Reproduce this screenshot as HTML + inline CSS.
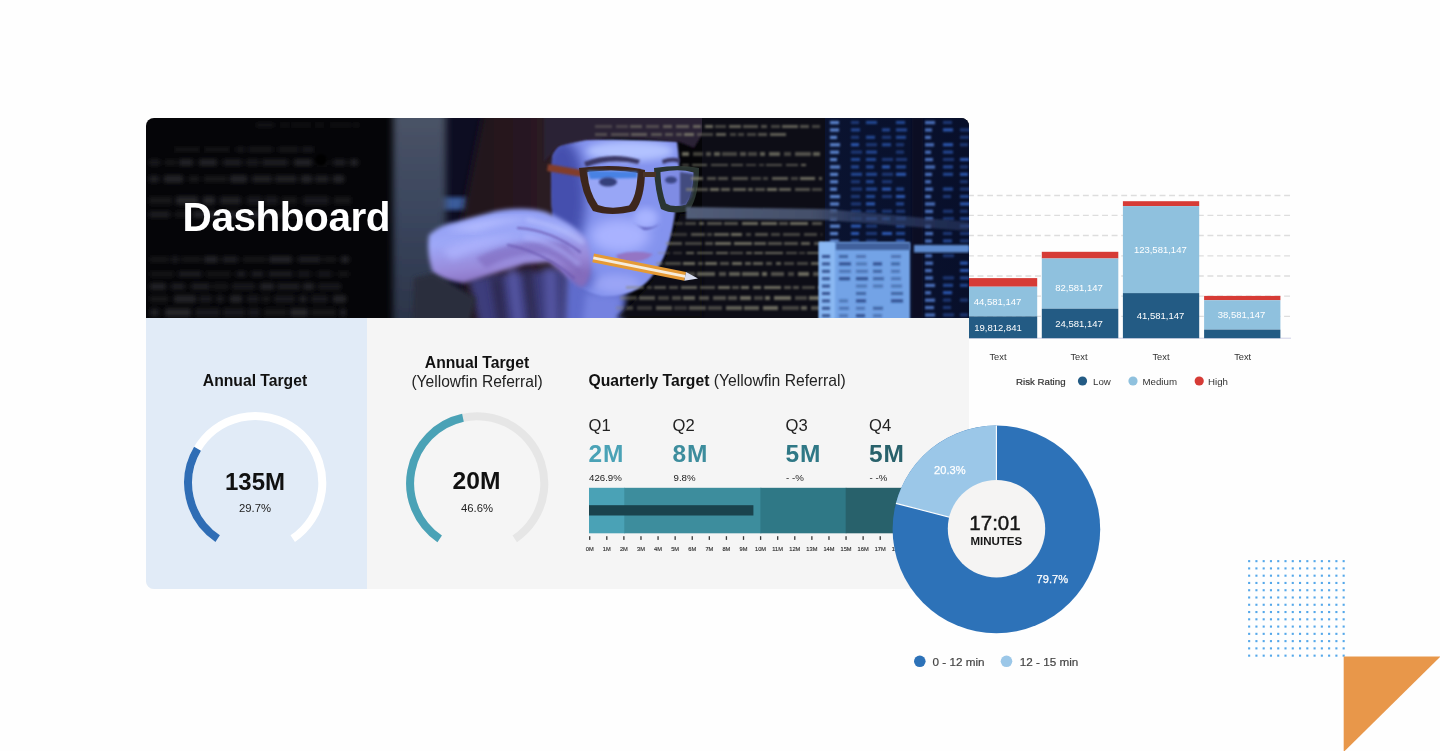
<!DOCTYPE html>
<html lang="en"><head><meta charset="utf-8"><title>Dashboard</title>
<style>
html,body{margin:0;padding:0;}
body{width:1440px;height:751px;position:relative;overflow:hidden;background:#fefefe;font-family:"Liberation Sans",sans-serif;color:#111;}
.abs{position:absolute;white-space:nowrap;line-height:1;}
svg{position:absolute;left:0;top:0;}
svg text{font-family:"Liberation Sans",sans-serif;}
.card{position:absolute;left:146px;top:118px;width:823px;height:471px;border-radius:8px;overflow:hidden;background:#f5f5f5;}
.leftp{position:absolute;left:0;top:200px;width:221px;height:271px;background:#e1ebf7;}
.c{text-align:center;}
.b{font-weight:700;}
</style></head><body>
<svg width="1440" height="751" viewBox="0 0 1440 751"><line x1="1290" y1="195.5" x2="969" y2="195.5" stroke="#dddddd" stroke-width="1.3" stroke-dasharray="5.9 3.68"/><line x1="1290" y1="215.4" x2="969" y2="215.4" stroke="#dddddd" stroke-width="1.3" stroke-dasharray="5.9 3.68"/><line x1="1290" y1="235.5" x2="969" y2="235.5" stroke="#dddddd" stroke-width="1.3" stroke-dasharray="5.9 3.68"/><line x1="1290" y1="255.8" x2="969" y2="255.8" stroke="#dddddd" stroke-width="1.3" stroke-dasharray="5.9 3.68"/><line x1="1290" y1="276.0" x2="969" y2="276.0" stroke="#dddddd" stroke-width="1.3" stroke-dasharray="5.9 3.68"/><line x1="1290" y1="296.2" x2="969" y2="296.2" stroke="#dddddd" stroke-width="1.3" stroke-dasharray="5.9 3.68"/><line x1="1290" y1="316.4" x2="969" y2="316.4" stroke="#dddddd" stroke-width="1.3" stroke-dasharray="5.9 3.68"/><line x1="969" y1="338.2" x2="1291" y2="338.2" stroke="#cfd0e6" stroke-width="1"/><rect x="960.8" y="278.1" width="76.4" height="8.6" fill="#d63b36"/><rect x="960.8" y="286.7" width="76.4" height="29.7" fill="#8fc1de"/><rect x="960.8" y="316.4" width="76.4" height="21.8" fill="#235b84"/><rect x="1041.8" y="251.8" width="76.5" height="6.7" fill="#d63b36"/><rect x="1041.8" y="258.5" width="76.5" height="50.2" fill="#8fc1de"/><rect x="1041.8" y="308.7" width="76.5" height="29.5" fill="#235b84"/><rect x="1122.9" y="201.2" width="76.3" height="4.9" fill="#d63b36"/><rect x="1122.9" y="206.1" width="76.3" height="87.0" fill="#8fc1de"/><rect x="1122.9" y="293.1" width="76.3" height="45.1" fill="#235b84"/><rect x="1204.1" y="295.9" width="76.3" height="4.3" fill="#d63b36"/><rect x="1204.1" y="300.2" width="76.3" height="29.4" fill="#8fc1de"/><rect x="1204.1" y="329.6" width="76.3" height="8.6" fill="#235b84"/><text x="997.5" y="304.8" font-size="9.5" text-anchor="middle" fill="#fff">44,581,147</text><text x="998" y="331" font-size="9.5" text-anchor="middle" fill="#fff">19,812,841</text><text x="1079" y="290.6" font-size="9.5" text-anchor="middle" fill="#fff">82,581,147</text><text x="1079" y="327.1" font-size="9.5" text-anchor="middle" fill="#fff">24,581,147</text><text x="1160.3" y="252.5" font-size="9.5" text-anchor="middle" fill="#fff">123,581,147</text><text x="1160.5" y="319.1" font-size="9.5" text-anchor="middle" fill="#fff">41,581,147</text><text x="1241.5" y="318.2" font-size="9.5" text-anchor="middle" fill="#fff">38,581,147</text><text x="998" y="360.1" font-size="9.3" text-anchor="middle" fill="#333">Text</text><text x="1079" y="360.1" font-size="9.3" text-anchor="middle" fill="#333">Text</text><text x="1161" y="360.1" font-size="9.3" text-anchor="middle" fill="#333">Text</text><text x="1242.7" y="360.1" font-size="9.3" text-anchor="middle" fill="#333">Text</text><text x="1016" y="385.3" font-size="9.7" fill="#333" stroke="#333" stroke-width="0.2">Risk Rating</text><circle cx="1082.5" cy="381" r="4.6" fill="#235b84"/><text x="1093" y="385.2" font-size="9.7" fill="#333">Low</text><circle cx="1133" cy="381" r="4.6" fill="#8fc1de"/><text x="1142.5" y="385.2" font-size="9.7" fill="#333">Medium</text><circle cx="1199.2" cy="381" r="4.6" fill="#d63b36"/><text x="1208" y="385.2" font-size="9.7" fill="#333">High</text><rect x="1248.10" y="560.10" width="2.1" height="2.1" fill="#55a8ea"/><rect x="1255.37" y="560.10" width="2.1" height="2.1" fill="#55a8ea"/><rect x="1262.64" y="560.10" width="2.1" height="2.1" fill="#55a8ea"/><rect x="1269.91" y="560.10" width="2.1" height="2.1" fill="#55a8ea"/><rect x="1277.18" y="560.10" width="2.1" height="2.1" fill="#55a8ea"/><rect x="1284.45" y="560.10" width="2.1" height="2.1" fill="#55a8ea"/><rect x="1291.72" y="560.10" width="2.1" height="2.1" fill="#55a8ea"/><rect x="1298.99" y="560.10" width="2.1" height="2.1" fill="#55a8ea"/><rect x="1306.26" y="560.10" width="2.1" height="2.1" fill="#55a8ea"/><rect x="1313.53" y="560.10" width="2.1" height="2.1" fill="#55a8ea"/><rect x="1320.80" y="560.10" width="2.1" height="2.1" fill="#55a8ea"/><rect x="1328.07" y="560.10" width="2.1" height="2.1" fill="#55a8ea"/><rect x="1335.34" y="560.10" width="2.1" height="2.1" fill="#55a8ea"/><rect x="1342.61" y="560.10" width="2.1" height="2.1" fill="#55a8ea"/><rect x="1248.10" y="567.37" width="2.1" height="2.1" fill="#55a8ea"/><rect x="1255.37" y="567.37" width="2.1" height="2.1" fill="#55a8ea"/><rect x="1262.64" y="567.37" width="2.1" height="2.1" fill="#55a8ea"/><rect x="1269.91" y="567.37" width="2.1" height="2.1" fill="#55a8ea"/><rect x="1277.18" y="567.37" width="2.1" height="2.1" fill="#55a8ea"/><rect x="1284.45" y="567.37" width="2.1" height="2.1" fill="#55a8ea"/><rect x="1291.72" y="567.37" width="2.1" height="2.1" fill="#55a8ea"/><rect x="1298.99" y="567.37" width="2.1" height="2.1" fill="#55a8ea"/><rect x="1306.26" y="567.37" width="2.1" height="2.1" fill="#55a8ea"/><rect x="1313.53" y="567.37" width="2.1" height="2.1" fill="#55a8ea"/><rect x="1320.80" y="567.37" width="2.1" height="2.1" fill="#55a8ea"/><rect x="1328.07" y="567.37" width="2.1" height="2.1" fill="#55a8ea"/><rect x="1335.34" y="567.37" width="2.1" height="2.1" fill="#55a8ea"/><rect x="1342.61" y="567.37" width="2.1" height="2.1" fill="#55a8ea"/><rect x="1248.10" y="574.64" width="2.1" height="2.1" fill="#55a8ea"/><rect x="1255.37" y="574.64" width="2.1" height="2.1" fill="#55a8ea"/><rect x="1262.64" y="574.64" width="2.1" height="2.1" fill="#55a8ea"/><rect x="1269.91" y="574.64" width="2.1" height="2.1" fill="#55a8ea"/><rect x="1277.18" y="574.64" width="2.1" height="2.1" fill="#55a8ea"/><rect x="1284.45" y="574.64" width="2.1" height="2.1" fill="#55a8ea"/><rect x="1291.72" y="574.64" width="2.1" height="2.1" fill="#55a8ea"/><rect x="1298.99" y="574.64" width="2.1" height="2.1" fill="#55a8ea"/><rect x="1306.26" y="574.64" width="2.1" height="2.1" fill="#55a8ea"/><rect x="1313.53" y="574.64" width="2.1" height="2.1" fill="#55a8ea"/><rect x="1320.80" y="574.64" width="2.1" height="2.1" fill="#55a8ea"/><rect x="1328.07" y="574.64" width="2.1" height="2.1" fill="#55a8ea"/><rect x="1335.34" y="574.64" width="2.1" height="2.1" fill="#55a8ea"/><rect x="1342.61" y="574.64" width="2.1" height="2.1" fill="#55a8ea"/><rect x="1248.10" y="581.91" width="2.1" height="2.1" fill="#55a8ea"/><rect x="1255.37" y="581.91" width="2.1" height="2.1" fill="#55a8ea"/><rect x="1262.64" y="581.91" width="2.1" height="2.1" fill="#55a8ea"/><rect x="1269.91" y="581.91" width="2.1" height="2.1" fill="#55a8ea"/><rect x="1277.18" y="581.91" width="2.1" height="2.1" fill="#55a8ea"/><rect x="1284.45" y="581.91" width="2.1" height="2.1" fill="#55a8ea"/><rect x="1291.72" y="581.91" width="2.1" height="2.1" fill="#55a8ea"/><rect x="1298.99" y="581.91" width="2.1" height="2.1" fill="#55a8ea"/><rect x="1306.26" y="581.91" width="2.1" height="2.1" fill="#55a8ea"/><rect x="1313.53" y="581.91" width="2.1" height="2.1" fill="#55a8ea"/><rect x="1320.80" y="581.91" width="2.1" height="2.1" fill="#55a8ea"/><rect x="1328.07" y="581.91" width="2.1" height="2.1" fill="#55a8ea"/><rect x="1335.34" y="581.91" width="2.1" height="2.1" fill="#55a8ea"/><rect x="1342.61" y="581.91" width="2.1" height="2.1" fill="#55a8ea"/><rect x="1248.10" y="589.18" width="2.1" height="2.1" fill="#55a8ea"/><rect x="1255.37" y="589.18" width="2.1" height="2.1" fill="#55a8ea"/><rect x="1262.64" y="589.18" width="2.1" height="2.1" fill="#55a8ea"/><rect x="1269.91" y="589.18" width="2.1" height="2.1" fill="#55a8ea"/><rect x="1277.18" y="589.18" width="2.1" height="2.1" fill="#55a8ea"/><rect x="1284.45" y="589.18" width="2.1" height="2.1" fill="#55a8ea"/><rect x="1291.72" y="589.18" width="2.1" height="2.1" fill="#55a8ea"/><rect x="1298.99" y="589.18" width="2.1" height="2.1" fill="#55a8ea"/><rect x="1306.26" y="589.18" width="2.1" height="2.1" fill="#55a8ea"/><rect x="1313.53" y="589.18" width="2.1" height="2.1" fill="#55a8ea"/><rect x="1320.80" y="589.18" width="2.1" height="2.1" fill="#55a8ea"/><rect x="1328.07" y="589.18" width="2.1" height="2.1" fill="#55a8ea"/><rect x="1335.34" y="589.18" width="2.1" height="2.1" fill="#55a8ea"/><rect x="1342.61" y="589.18" width="2.1" height="2.1" fill="#55a8ea"/><rect x="1248.10" y="596.45" width="2.1" height="2.1" fill="#55a8ea"/><rect x="1255.37" y="596.45" width="2.1" height="2.1" fill="#55a8ea"/><rect x="1262.64" y="596.45" width="2.1" height="2.1" fill="#55a8ea"/><rect x="1269.91" y="596.45" width="2.1" height="2.1" fill="#55a8ea"/><rect x="1277.18" y="596.45" width="2.1" height="2.1" fill="#55a8ea"/><rect x="1284.45" y="596.45" width="2.1" height="2.1" fill="#55a8ea"/><rect x="1291.72" y="596.45" width="2.1" height="2.1" fill="#55a8ea"/><rect x="1298.99" y="596.45" width="2.1" height="2.1" fill="#55a8ea"/><rect x="1306.26" y="596.45" width="2.1" height="2.1" fill="#55a8ea"/><rect x="1313.53" y="596.45" width="2.1" height="2.1" fill="#55a8ea"/><rect x="1320.80" y="596.45" width="2.1" height="2.1" fill="#55a8ea"/><rect x="1328.07" y="596.45" width="2.1" height="2.1" fill="#55a8ea"/><rect x="1335.34" y="596.45" width="2.1" height="2.1" fill="#55a8ea"/><rect x="1342.61" y="596.45" width="2.1" height="2.1" fill="#55a8ea"/><rect x="1248.10" y="603.72" width="2.1" height="2.1" fill="#55a8ea"/><rect x="1255.37" y="603.72" width="2.1" height="2.1" fill="#55a8ea"/><rect x="1262.64" y="603.72" width="2.1" height="2.1" fill="#55a8ea"/><rect x="1269.91" y="603.72" width="2.1" height="2.1" fill="#55a8ea"/><rect x="1277.18" y="603.72" width="2.1" height="2.1" fill="#55a8ea"/><rect x="1284.45" y="603.72" width="2.1" height="2.1" fill="#55a8ea"/><rect x="1291.72" y="603.72" width="2.1" height="2.1" fill="#55a8ea"/><rect x="1298.99" y="603.72" width="2.1" height="2.1" fill="#55a8ea"/><rect x="1306.26" y="603.72" width="2.1" height="2.1" fill="#55a8ea"/><rect x="1313.53" y="603.72" width="2.1" height="2.1" fill="#55a8ea"/><rect x="1320.80" y="603.72" width="2.1" height="2.1" fill="#55a8ea"/><rect x="1328.07" y="603.72" width="2.1" height="2.1" fill="#55a8ea"/><rect x="1335.34" y="603.72" width="2.1" height="2.1" fill="#55a8ea"/><rect x="1342.61" y="603.72" width="2.1" height="2.1" fill="#55a8ea"/><rect x="1248.10" y="610.99" width="2.1" height="2.1" fill="#55a8ea"/><rect x="1255.37" y="610.99" width="2.1" height="2.1" fill="#55a8ea"/><rect x="1262.64" y="610.99" width="2.1" height="2.1" fill="#55a8ea"/><rect x="1269.91" y="610.99" width="2.1" height="2.1" fill="#55a8ea"/><rect x="1277.18" y="610.99" width="2.1" height="2.1" fill="#55a8ea"/><rect x="1284.45" y="610.99" width="2.1" height="2.1" fill="#55a8ea"/><rect x="1291.72" y="610.99" width="2.1" height="2.1" fill="#55a8ea"/><rect x="1298.99" y="610.99" width="2.1" height="2.1" fill="#55a8ea"/><rect x="1306.26" y="610.99" width="2.1" height="2.1" fill="#55a8ea"/><rect x="1313.53" y="610.99" width="2.1" height="2.1" fill="#55a8ea"/><rect x="1320.80" y="610.99" width="2.1" height="2.1" fill="#55a8ea"/><rect x="1328.07" y="610.99" width="2.1" height="2.1" fill="#55a8ea"/><rect x="1335.34" y="610.99" width="2.1" height="2.1" fill="#55a8ea"/><rect x="1342.61" y="610.99" width="2.1" height="2.1" fill="#55a8ea"/><rect x="1248.10" y="618.26" width="2.1" height="2.1" fill="#55a8ea"/><rect x="1255.37" y="618.26" width="2.1" height="2.1" fill="#55a8ea"/><rect x="1262.64" y="618.26" width="2.1" height="2.1" fill="#55a8ea"/><rect x="1269.91" y="618.26" width="2.1" height="2.1" fill="#55a8ea"/><rect x="1277.18" y="618.26" width="2.1" height="2.1" fill="#55a8ea"/><rect x="1284.45" y="618.26" width="2.1" height="2.1" fill="#55a8ea"/><rect x="1291.72" y="618.26" width="2.1" height="2.1" fill="#55a8ea"/><rect x="1298.99" y="618.26" width="2.1" height="2.1" fill="#55a8ea"/><rect x="1306.26" y="618.26" width="2.1" height="2.1" fill="#55a8ea"/><rect x="1313.53" y="618.26" width="2.1" height="2.1" fill="#55a8ea"/><rect x="1320.80" y="618.26" width="2.1" height="2.1" fill="#55a8ea"/><rect x="1328.07" y="618.26" width="2.1" height="2.1" fill="#55a8ea"/><rect x="1335.34" y="618.26" width="2.1" height="2.1" fill="#55a8ea"/><rect x="1342.61" y="618.26" width="2.1" height="2.1" fill="#55a8ea"/><rect x="1248.10" y="625.53" width="2.1" height="2.1" fill="#55a8ea"/><rect x="1255.37" y="625.53" width="2.1" height="2.1" fill="#55a8ea"/><rect x="1262.64" y="625.53" width="2.1" height="2.1" fill="#55a8ea"/><rect x="1269.91" y="625.53" width="2.1" height="2.1" fill="#55a8ea"/><rect x="1277.18" y="625.53" width="2.1" height="2.1" fill="#55a8ea"/><rect x="1284.45" y="625.53" width="2.1" height="2.1" fill="#55a8ea"/><rect x="1291.72" y="625.53" width="2.1" height="2.1" fill="#55a8ea"/><rect x="1298.99" y="625.53" width="2.1" height="2.1" fill="#55a8ea"/><rect x="1306.26" y="625.53" width="2.1" height="2.1" fill="#55a8ea"/><rect x="1313.53" y="625.53" width="2.1" height="2.1" fill="#55a8ea"/><rect x="1320.80" y="625.53" width="2.1" height="2.1" fill="#55a8ea"/><rect x="1328.07" y="625.53" width="2.1" height="2.1" fill="#55a8ea"/><rect x="1335.34" y="625.53" width="2.1" height="2.1" fill="#55a8ea"/><rect x="1342.61" y="625.53" width="2.1" height="2.1" fill="#55a8ea"/><rect x="1248.10" y="632.80" width="2.1" height="2.1" fill="#55a8ea"/><rect x="1255.37" y="632.80" width="2.1" height="2.1" fill="#55a8ea"/><rect x="1262.64" y="632.80" width="2.1" height="2.1" fill="#55a8ea"/><rect x="1269.91" y="632.80" width="2.1" height="2.1" fill="#55a8ea"/><rect x="1277.18" y="632.80" width="2.1" height="2.1" fill="#55a8ea"/><rect x="1284.45" y="632.80" width="2.1" height="2.1" fill="#55a8ea"/><rect x="1291.72" y="632.80" width="2.1" height="2.1" fill="#55a8ea"/><rect x="1298.99" y="632.80" width="2.1" height="2.1" fill="#55a8ea"/><rect x="1306.26" y="632.80" width="2.1" height="2.1" fill="#55a8ea"/><rect x="1313.53" y="632.80" width="2.1" height="2.1" fill="#55a8ea"/><rect x="1320.80" y="632.80" width="2.1" height="2.1" fill="#55a8ea"/><rect x="1328.07" y="632.80" width="2.1" height="2.1" fill="#55a8ea"/><rect x="1335.34" y="632.80" width="2.1" height="2.1" fill="#55a8ea"/><rect x="1342.61" y="632.80" width="2.1" height="2.1" fill="#55a8ea"/><rect x="1248.10" y="640.07" width="2.1" height="2.1" fill="#55a8ea"/><rect x="1255.37" y="640.07" width="2.1" height="2.1" fill="#55a8ea"/><rect x="1262.64" y="640.07" width="2.1" height="2.1" fill="#55a8ea"/><rect x="1269.91" y="640.07" width="2.1" height="2.1" fill="#55a8ea"/><rect x="1277.18" y="640.07" width="2.1" height="2.1" fill="#55a8ea"/><rect x="1284.45" y="640.07" width="2.1" height="2.1" fill="#55a8ea"/><rect x="1291.72" y="640.07" width="2.1" height="2.1" fill="#55a8ea"/><rect x="1298.99" y="640.07" width="2.1" height="2.1" fill="#55a8ea"/><rect x="1306.26" y="640.07" width="2.1" height="2.1" fill="#55a8ea"/><rect x="1313.53" y="640.07" width="2.1" height="2.1" fill="#55a8ea"/><rect x="1320.80" y="640.07" width="2.1" height="2.1" fill="#55a8ea"/><rect x="1328.07" y="640.07" width="2.1" height="2.1" fill="#55a8ea"/><rect x="1335.34" y="640.07" width="2.1" height="2.1" fill="#55a8ea"/><rect x="1342.61" y="640.07" width="2.1" height="2.1" fill="#55a8ea"/><rect x="1248.10" y="647.34" width="2.1" height="2.1" fill="#55a8ea"/><rect x="1255.37" y="647.34" width="2.1" height="2.1" fill="#55a8ea"/><rect x="1262.64" y="647.34" width="2.1" height="2.1" fill="#55a8ea"/><rect x="1269.91" y="647.34" width="2.1" height="2.1" fill="#55a8ea"/><rect x="1277.18" y="647.34" width="2.1" height="2.1" fill="#55a8ea"/><rect x="1284.45" y="647.34" width="2.1" height="2.1" fill="#55a8ea"/><rect x="1291.72" y="647.34" width="2.1" height="2.1" fill="#55a8ea"/><rect x="1298.99" y="647.34" width="2.1" height="2.1" fill="#55a8ea"/><rect x="1306.26" y="647.34" width="2.1" height="2.1" fill="#55a8ea"/><rect x="1313.53" y="647.34" width="2.1" height="2.1" fill="#55a8ea"/><rect x="1320.80" y="647.34" width="2.1" height="2.1" fill="#55a8ea"/><rect x="1328.07" y="647.34" width="2.1" height="2.1" fill="#55a8ea"/><rect x="1335.34" y="647.34" width="2.1" height="2.1" fill="#55a8ea"/><rect x="1342.61" y="647.34" width="2.1" height="2.1" fill="#55a8ea"/><rect x="1248.10" y="654.61" width="2.1" height="2.1" fill="#55a8ea"/><rect x="1255.37" y="654.61" width="2.1" height="2.1" fill="#55a8ea"/><rect x="1262.64" y="654.61" width="2.1" height="2.1" fill="#55a8ea"/><rect x="1269.91" y="654.61" width="2.1" height="2.1" fill="#55a8ea"/><rect x="1277.18" y="654.61" width="2.1" height="2.1" fill="#55a8ea"/><rect x="1284.45" y="654.61" width="2.1" height="2.1" fill="#55a8ea"/><rect x="1291.72" y="654.61" width="2.1" height="2.1" fill="#55a8ea"/><rect x="1298.99" y="654.61" width="2.1" height="2.1" fill="#55a8ea"/><rect x="1306.26" y="654.61" width="2.1" height="2.1" fill="#55a8ea"/><rect x="1313.53" y="654.61" width="2.1" height="2.1" fill="#55a8ea"/><rect x="1320.80" y="654.61" width="2.1" height="2.1" fill="#55a8ea"/><rect x="1328.07" y="654.61" width="2.1" height="2.1" fill="#55a8ea"/><rect x="1335.34" y="654.61" width="2.1" height="2.1" fill="#55a8ea"/><rect x="1342.61" y="654.61" width="2.1" height="2.1" fill="#55a8ea"/><polygon points="1343.7,656.5 1440.5,656.5 1343.7,752" fill="#e8974a"/></svg>
<div class="card"><div class="leftp"></div>
<svg width="823" height="200" viewBox="0 0 823 200" style="left:0;top:0">
<defs>
<filter id="b05" x="-20%" y="-20%" width="140%" height="140%"><feGaussianBlur stdDeviation="0.6"/></filter>
<filter id="b1" x="-20%" y="-20%" width="140%" height="140%"><feGaussianBlur stdDeviation="1"/></filter>
<filter id="b2" x="-20%" y="-20%" width="140%" height="140%"><feGaussianBlur stdDeviation="2"/></filter>
<filter id="b3" x="-20%" y="-20%" width="140%" height="140%"><feGaussianBlur stdDeviation="3.5"/></filter>
<filter id="b6" x="-40%" y="-40%" width="180%" height="180%"><feGaussianBlur stdDeviation="6"/></filter>
<filter id="b10" x="-50%" y="-50%" width="200%" height="200%"><feGaussianBlur stdDeviation="10"/></filter>
<linearGradient id="pil" x1="0" y1="0" x2="0" y2="1"><stop offset="0" stop-color="#4b5467"/><stop offset="0.5" stop-color="#3a455d"/><stop offset="1" stop-color="#2a3347"/></linearGradient>
<linearGradient id="hair" x1="0" y1="0" x2="1" y2="0"><stop offset="0" stop-color="#21131a"/><stop offset="0.6" stop-color="#2b1b24"/><stop offset="1" stop-color="#33264e"/></linearGradient>
<linearGradient id="hand" x1="0" y1="0" x2="0.25" y2="1"><stop offset="0" stop-color="#8a9af2"/><stop offset="0.45" stop-color="#9ea8f8"/><stop offset="0.8" stop-color="#9888d8"/><stop offset="1" stop-color="#846cbc"/></linearGradient>
<linearGradient id="navy" x1="0" y1="0" x2="1" y2="0"><stop offset="0" stop-color="#0a1330"/><stop offset="1" stop-color="#080f2a"/></linearGradient>
<linearGradient id="barg" gradientUnits="userSpaceOnUse" x1="540" y1="0" x2="823" y2="0"><stop offset="0" stop-color="#56627e" stop-opacity="0.95"/><stop offset="0.45" stop-color="#4a5673" stop-opacity="0.9"/><stop offset="0.6" stop-color="#33436c" stop-opacity="0.75"/><stop offset="1" stop-color="#2c3c66" stop-opacity="0.6"/></linearGradient>
<clipPath id="pc"><rect width="823" height="200"/></clipPath>
<clipPath id="fc"><path d="M406 40 Q408 22 440 21 L531 23 Q535 50 531 70 Q530 92 527 108 Q522 140 505 160 Q488 180 455 178 Q430 172 415 150 Q402 100 406 40Z"/></clipPath>
</defs>
<g clip-path="url(#pc)">
<rect width="823" height="200" fill="#050508"/>
<g filter="url(#b2)" fill="#2a2a2c"><rect x="110" y="5.5" width="18" height="3" opacity="0.6"/><rect x="134" y="5.5" width="9" height="3" opacity="0.45"/><rect x="146" y="5.5" width="19" height="3" opacity="0.45"/><rect x="169" y="5.5" width="9" height="3" opacity="0.45"/><rect x="184" y="5.5" width="21" height="3" opacity="0.45"/><rect x="209" y="5.5" width="3" height="3" opacity="0.9"/><rect x="28" y="29.5" width="26" height="4" opacity="0.45"/><rect x="58" y="29.5" width="26" height="4" opacity="0.45"/><rect x="90" y="29.5" width="9" height="4" opacity="0.6"/><rect x="102" y="29.5" width="25" height="4" opacity="0.6"/><rect x="132" y="29.5" width="21" height="4" opacity="0.6"/><rect x="156" y="29.5" width="12" height="4" opacity="0.75"/><rect x="3" y="41.5" width="11" height="6" opacity="0.6"/><rect x="19" y="41.5" width="11" height="6" opacity="0.45"/><rect x="33" y="41.5" width="14" height="6" opacity="0.9"/><rect x="53" y="41.5" width="18" height="6" opacity="0.9"/><rect x="77" y="41.5" width="19" height="6" opacity="0.75"/><rect x="100" y="41.5" width="13" height="6" opacity="0.6"/><rect x="116" y="41.5" width="26" height="6" opacity="0.75"/><rect x="148" y="41.5" width="18" height="6" opacity="0.9"/><rect x="171" y="41.5" width="10" height="6" opacity="0.45"/><rect x="187" y="41.5" width="13" height="6" opacity="0.75"/><rect x="204" y="41.5" width="8" height="6" opacity="0.9"/><rect x="3" y="57.5" width="10" height="7" opacity="0.75"/><rect x="18" y="57.5" width="19" height="7" opacity="0.9"/><rect x="43" y="57.5" width="10" height="7" opacity="0.45"/><rect x="58" y="57.5" width="23" height="7" opacity="0.45"/><rect x="84" y="57.5" width="17" height="7" opacity="0.9"/><rect x="106" y="57.5" width="20" height="7" opacity="0.75"/><rect x="129" y="57.5" width="22" height="7" opacity="0.75"/><rect x="155" y="57.5" width="11" height="7" opacity="0.9"/><rect x="169" y="57.5" width="14" height="7" opacity="0.75"/><rect x="187" y="57.5" width="11" height="7" opacity="0.9"/><rect x="3" y="78.5" width="23" height="8" opacity="0.45"/><rect x="30" y="78.5" width="22" height="8" opacity="0.9"/><rect x="57" y="78.5" width="12" height="8" opacity="0.9"/><rect x="74" y="78.5" width="21" height="8" opacity="0.75"/><rect x="101" y="78.5" width="15" height="8" opacity="0.6"/><rect x="119" y="78.5" width="13" height="8" opacity="0.6"/><rect x="136" y="78.5" width="15" height="8" opacity="0.45"/><rect x="157" y="78.5" width="26" height="8" opacity="0.6"/><rect x="188" y="78.5" width="17" height="8" opacity="0.45"/><rect x="3" y="93.5" width="21" height="6" opacity="0.75"/><rect x="29" y="93.5" width="12" height="6" opacity="0.45"/><rect x="47" y="93.5" width="25" height="6" opacity="0.9"/><rect x="78" y="93.5" width="20" height="6" opacity="0.9"/><rect x="101" y="93.5" width="23" height="6" opacity="0.9"/><rect x="127" y="93.5" width="14" height="6" opacity="0.45"/><rect x="145" y="93.5" width="5" height="6" opacity="0.6"/><rect x="4" y="138.5" width="18" height="6" opacity="0.45"/><rect x="25" y="138.5" width="8" height="6" opacity="0.6"/><rect x="36" y="138.5" width="19" height="6" opacity="0.45"/><rect x="58" y="138.5" width="14" height="6" opacity="0.9"/><rect x="76" y="138.5" width="16" height="6" opacity="0.75"/><rect x="97" y="138.5" width="23" height="6" opacity="0.45"/><rect x="123" y="138.5" width="23" height="6" opacity="0.9"/><rect x="152" y="138.5" width="23" height="6" opacity="0.75"/><rect x="178" y="138.5" width="12" height="6" opacity="0.45"/><rect x="195" y="138.5" width="8" height="6" opacity="0.9"/><rect x="4" y="153.5" width="24" height="5" opacity="0.45"/><rect x="32" y="153.5" width="24" height="5" opacity="0.75"/><rect x="60" y="153.5" width="25" height="5" opacity="0.45"/><rect x="90" y="153.5" width="10" height="5" opacity="0.75"/><rect x="105" y="153.5" width="13" height="5" opacity="0.75"/><rect x="122" y="153.5" width="25" height="5" opacity="0.75"/><rect x="151" y="153.5" width="14" height="5" opacity="0.6"/><rect x="171" y="153.5" width="15" height="5" opacity="0.6"/><rect x="192" y="153.5" width="11" height="5" opacity="0.45"/><rect x="4" y="165.5" width="16" height="6" opacity="0.9"/><rect x="25" y="165.5" width="14" height="6" opacity="0.75"/><rect x="45" y="165.5" width="19" height="6" opacity="0.75"/><rect x="67" y="165.5" width="15" height="6" opacity="0.45"/><rect x="86" y="165.5" width="23" height="6" opacity="0.6"/><rect x="114" y="165.5" width="14" height="6" opacity="0.9"/><rect x="131" y="165.5" width="23" height="6" opacity="0.75"/><rect x="157" y="165.5" width="11" height="6" opacity="0.9"/><rect x="172" y="165.5" width="23" height="6" opacity="0.6"/><rect x="4" y="177.5" width="18" height="7" opacity="0.45"/><rect x="28" y="177.5" width="22" height="7" opacity="0.9"/><rect x="53" y="177.5" width="13" height="7" opacity="0.6"/><rect x="70" y="177.5" width="8" height="7" opacity="0.6"/><rect x="84" y="177.5" width="12" height="7" opacity="0.9"/><rect x="101" y="177.5" width="12" height="7" opacity="0.6"/><rect x="116" y="177.5" width="8" height="7" opacity="0.45"/><rect x="128" y="177.5" width="21" height="7" opacity="0.6"/><rect x="153" y="177.5" width="8" height="7" opacity="0.75"/><rect x="165" y="177.5" width="17" height="7" opacity="0.6"/><rect x="187" y="177.5" width="13" height="7" opacity="0.9"/><rect x="4" y="190.5" width="9" height="8" opacity="0.75"/><rect x="19" y="190.5" width="26" height="8" opacity="0.9"/><rect x="49" y="190.5" width="25" height="8" opacity="0.6"/><rect x="77" y="190.5" width="22" height="8" opacity="0.6"/><rect x="102" y="190.5" width="12" height="8" opacity="0.6"/><rect x="118" y="190.5" width="23" height="8" opacity="0.45"/><rect x="144" y="190.5" width="18" height="8" opacity="0.9"/><rect x="165" y="190.5" width="25" height="8" opacity="0.45"/><rect x="194" y="190.5" width="6" height="8" opacity="0.75"/></g>
<circle cx="175" cy="42" r="6" fill="#030305" filter="url(#b1)"/>
<rect x="296" y="-10" width="44" height="220" fill="#0b1022" filter="url(#b3)"/>
<rect x="288" y="79" width="34" height="13" fill="#3b5b9b" filter="url(#b2)"/>
<rect x="247" y="-10" width="53" height="220" fill="url(#pil)" filter="url(#b3)"/>
<path d="M338 -8 L324 60 L316 100 L318 210 L470 210 L452 120 L452 -8Z" fill="url(#hair)" filter="url(#b3)"/>
<path d="M322 160 L334 210 L420 210 L420 150Z" fill="#3c3c7c" filter="url(#b3)"/>
<path d="M344 160 L352 210 L362 210 L356 158Z M376 150 L384 210 L392 210 L386 150Z" fill="#2c2548" filter="url(#b3)" opacity="0.8"/>
<path d="M360 150 L368 210 L378 210 L372 150Z M398 150 L400 210 L412 210 L410 150Z" fill="#6264b8" filter="url(#b3)" opacity="0.6"/>
<path d="M420 150 L418 210 L476 210 L480 170Z" fill="#5f6ccc" filter="url(#b3)"/>
<path d="M440 175 L436 210 L472 210 L476 178Z" fill="#7482e0" filter="url(#b3)"/>
<g filter="url(#b1)"><g clip-path="url(#fc)">
<rect x="396" y="15" width="145" height="170" fill="#8493ee"/>
<ellipse cx="416" cy="80" rx="24" ry="60" fill="#4450ae" filter="url(#b6)"/>
<ellipse cx="484" cy="33" rx="44" ry="10" fill="#b2c2ff" filter="url(#b3)"/>
<ellipse cx="474" cy="118" rx="30" ry="17" fill="#a9b2ff" filter="url(#b6)"/>
<ellipse cx="500" cy="100" rx="12" ry="10" fill="#a8b4ff" filter="url(#b3)"/>
<ellipse cx="470" cy="166" rx="24" ry="9" fill="#9aa4f6" filter="url(#b3)"/>
<ellipse cx="430" cy="160" rx="18" ry="14" fill="#5a66c6" filter="url(#b6)"/>
</g></g>
<path d="M486 104 Q500 114 514 106 Q506 112 498 112Z" fill="#5a5cb8" filter="url(#b1)" opacity="0.9"/>
<path d="M470 137 Q488 131 507 136 Q498 146 474 144Z" fill="#9474c4" filter="url(#b1)"/>
<path d="M438 44 Q465 33 494 42 L492 46 Q465 40 440 49Z" fill="#3b3766" filter="url(#b1)"/>
<path d="M516 42 Q526 38 534 41 L533 45 Q526 42 517 46Z" fill="#3b3766" filter="url(#b1)"/>
<path d="M398 -8 L398 44 L412 28 L440 22 L470 20 L500 21 L533 24 L548 30 L560 10 L560 -8Z" fill="#2b2036" filter="url(#b1)"/>
<path d="M402 46 L436 52 L436 59 L401 53Z" fill="#823c2a" filter="url(#b1)"/>
<path d="M433 50 Q470 45 499 52 Q499 80 489 93 Q465 99 447 93 Q435 76 433 50Z" fill="#3c261e" filter="url(#b05)"/>
<path d="M441.5 54 Q470 50.5 491.5 55 Q491 78 483 87.5 Q465 92 452 87 Q443 74 441.5 56Z" fill="#98a6f6" filter="url(#b05)"/>
<path d="M441.5 52.5 L491.5 53.5 L491 60 L444 61Z" fill="#3a7be0" opacity="0.85" filter="url(#b1)"/>
<ellipse cx="462" cy="64" rx="9" ry="4.5" fill="#2c346e" filter="url(#b1)" opacity="0.9"/>
<path d="M508 50 Q535 46 553 50 Q553 78 543 93 Q526 97 515 91 Q509 74 508 50Z" fill="#2a3630" filter="url(#b05)"/>
<path d="M514.5 54 Q534 50.5 547.5 54.5 Q547 76 540 86.5 Q527 90 520 85.5 Q515 72 514.5 56Z" fill="#7f8ce4" filter="url(#b05)"/>
<path d="M534 54 L548 56 L546 78 L540 87 L534 88Z" fill="#39406e" filter="url(#b1)" opacity="0.85"/>
<ellipse cx="525" cy="62" rx="6" ry="3.5" fill="#2c346e" filter="url(#b1)" opacity="0.8"/>
<rect x="497" y="54" width="13" height="5" fill="#4a3026" filter="url(#b05)"/>
<path d="M283 117 Q295 106 310 104 L350 93 Q379 88 400 94 Q425 104 440 120 Q447 138 444 157 Q440 172 432 168 Q420 158 403 144 L379 146 L318 165 Q295 162 287 155 Q280 135 283 117Z" fill="url(#hand)" filter="url(#b2)"/>
<path d="M300 112 Q340 96 392 100 Q360 104 330 114Z" fill="#b4bcff" filter="url(#b3)" opacity="0.9"/>
<path d="M330 140 Q370 118 420 126 Q432 140 436 158 Q418 142 400 136 Q370 134 340 150Z" fill="#7a64b8" opacity="0.55" filter="url(#b2)"/>
<path d="M296 132 Q330 118 372 118 Q340 128 306 142Z" fill="#b0b6ff" filter="url(#b3)" opacity="0.7"/>
<path d="M372 110 Q405 112 434 134" fill="none" stroke="#6a58b0" stroke-width="2.2" stroke-linecap="round" filter="url(#b1)" opacity="0.8"/>
<path d="M362 127 Q398 134 428 160" fill="none" stroke="#6a58b0" stroke-width="2.2" stroke-linecap="round" filter="url(#b1)" opacity="0.75"/>
<path d="M382 102 Q415 108 436 124" fill="none" stroke="#bcc4ff" stroke-width="4" stroke-linecap="round" filter="url(#b2)" opacity="0.7"/>
<path d="M380 119 Q408 124 432 146" fill="none" stroke="#b4b8ff" stroke-width="4" stroke-linecap="round" filter="url(#b2)" opacity="0.6"/>
<path d="M268 160 L287 155 L330 180 L322 210 L266 210Z" fill="#2b2f3e" filter="url(#b2)"/>
<rect x="556" y="0" width="124" height="200" fill="#0d0d16"/>
<path d="M534 96 L556 96 L556 200 L470 200 Q505 170 520 140Z" fill="#0d0d16" filter="url(#b2)"/>
<g filter="url(#b1)" fill="#8a8876"><rect x="449" y="7" width="17" height="3.0" opacity="0.34"/><rect x="470" y="7" width="12" height="3.0" opacity="0.34"/><rect x="484" y="7" width="12" height="3.0" opacity="0.49"/><rect x="500" y="7" width="13" height="3.0" opacity="0.41"/><rect x="517" y="7" width="9" height="3.0" opacity="0.56"/><rect x="530" y="7" width="13" height="3.0" opacity="0.56"/><rect x="547" y="7" width="8" height="3.0" opacity="0.65"/><rect x="559" y="7" width="8" height="3.0" opacity="0.75"/><rect x="569" y="7" width="11" height="3.0" opacity="0.45"/><rect x="583" y="7" width="12" height="3.0" opacity="0.65"/><rect x="597" y="7" width="15" height="3.0" opacity="0.55"/><rect x="615" y="7" width="6" height="3.0" opacity="0.55"/><rect x="625" y="7" width="9" height="3.0" opacity="0.45"/><rect x="636" y="7" width="16" height="3.0" opacity="0.65"/><rect x="654" y="7" width="9" height="3.0" opacity="0.55"/><rect x="666" y="7" width="8" height="3.0" opacity="0.45"/><rect x="449" y="15" width="12" height="3.0" opacity="0.41"/><rect x="465" y="15" width="18" height="3.0" opacity="0.41"/><rect x="485" y="15" width="16" height="3.0" opacity="0.56"/><rect x="505" y="15" width="11" height="3.0" opacity="0.49"/><rect x="519" y="15" width="8" height="3.0" opacity="0.49"/><rect x="530" y="15" width="6" height="3.0" opacity="0.49"/><rect x="538" y="15" width="10" height="3.0" opacity="0.75"/><rect x="551" y="15" width="16" height="3.0" opacity="0.45"/><rect x="570" y="15" width="10" height="3.0" opacity="0.65"/><rect x="584" y="15" width="6" height="3.0" opacity="0.45"/><rect x="592" y="15" width="6" height="3.0" opacity="0.45"/><rect x="601" y="15" width="9" height="3.0" opacity="0.45"/><rect x="612" y="15" width="9" height="3.0" opacity="0.55"/><rect x="624" y="15" width="16" height="3.0" opacity="0.65"/><rect x="536" y="34" width="7" height="4.0" opacity="0.75"/><rect x="547" y="34" width="10" height="4.0" opacity="0.45"/><rect x="560" y="34" width="5" height="4.0" opacity="0.55"/><rect x="568" y="34" width="6" height="4.0" opacity="0.65"/><rect x="576" y="34" width="15" height="4.0" opacity="0.45"/><rect x="594" y="34" width="6" height="4.0" opacity="0.55"/><rect x="602" y="34" width="9" height="4.0" opacity="0.45"/><rect x="614" y="34" width="5" height="4.0" opacity="0.65"/><rect x="623" y="34" width="11" height="4.0" opacity="0.65"/><rect x="638" y="34" width="7" height="4.0" opacity="0.45"/><rect x="649" y="34" width="16" height="4.0" opacity="0.55"/><rect x="667" y="34" width="7" height="4.0" opacity="0.65"/><rect x="536" y="46" width="7" height="2.0" opacity="0.55"/><rect x="546" y="46" width="15" height="2.0" opacity="0.65"/><rect x="565" y="46" width="17" height="2.0" opacity="0.55"/><rect x="585" y="46" width="12" height="2.0" opacity="0.55"/><rect x="600" y="46" width="10" height="2.0" opacity="0.45"/><rect x="613" y="46" width="5" height="2.0" opacity="0.45"/><rect x="620" y="46" width="16" height="2.0" opacity="0.55"/><rect x="640" y="46" width="12" height="2.0" opacity="0.55"/><rect x="655" y="46" width="5" height="2.0" opacity="0.75"/><rect x="545" y="59" width="12" height="3.0" opacity="0.75"/><rect x="561" y="59" width="9" height="3.0" opacity="0.55"/><rect x="572" y="59" width="10" height="3.0" opacity="0.55"/><rect x="586" y="59" width="16" height="3.0" opacity="0.55"/><rect x="605" y="59" width="10" height="3.0" opacity="0.45"/><rect x="617" y="59" width="5" height="3.0" opacity="0.45"/><rect x="626" y="59" width="16" height="3.0" opacity="0.65"/><rect x="645" y="59" width="7" height="3.0" opacity="0.45"/><rect x="654" y="59" width="15" height="3.0" opacity="0.75"/><rect x="673" y="59" width="3" height="3.0" opacity="0.65"/><rect x="540" y="70" width="8" height="3.0" opacity="0.65"/><rect x="550" y="70" width="12" height="3.0" opacity="0.55"/><rect x="564" y="70" width="9" height="3.0" opacity="0.75"/><rect x="575" y="70" width="9" height="3.0" opacity="0.65"/><rect x="587" y="70" width="13" height="3.0" opacity="0.65"/><rect x="602" y="70" width="5" height="3.0" opacity="0.65"/><rect x="609" y="70" width="10" height="3.0" opacity="0.55"/><rect x="621" y="70" width="10" height="3.0" opacity="0.75"/><rect x="633" y="70" width="12" height="3.0" opacity="0.65"/><rect x="649" y="70" width="15" height="3.0" opacity="0.55"/><rect x="666" y="70" width="10" height="3.0" opacity="0.45"/><rect x="528" y="104" width="9" height="3.0" opacity="0.34"/><rect x="539" y="104" width="11" height="3.0" opacity="0.45"/><rect x="553" y="104" width="5" height="3.0" opacity="0.65"/><rect x="561" y="104" width="15" height="3.0" opacity="0.55"/><rect x="578" y="104" width="14" height="3.0" opacity="0.55"/><rect x="596" y="104" width="16" height="3.0" opacity="0.75"/><rect x="615" y="104" width="16" height="3.0" opacity="0.75"/><rect x="633" y="104" width="9" height="3.0" opacity="0.55"/><rect x="644" y="104" width="18" height="3.0" opacity="0.75"/><rect x="666" y="104" width="10" height="3.0" opacity="0.55"/><rect x="524" y="115" width="17" height="3.0" opacity="0.34"/><rect x="545" y="115" width="14" height="3.0" opacity="0.55"/><rect x="561" y="115" width="5" height="3.0" opacity="0.45"/><rect x="568" y="115" width="15" height="3.0" opacity="0.65"/><rect x="585" y="115" width="11" height="3.0" opacity="0.75"/><rect x="600" y="115" width="5" height="3.0" opacity="0.45"/><rect x="609" y="115" width="13" height="3.0" opacity="0.55"/><rect x="625" y="115" width="9" height="3.0" opacity="0.45"/><rect x="637" y="115" width="17" height="3.0" opacity="0.45"/><rect x="658" y="115" width="13" height="3.0" opacity="0.45"/><rect x="675" y="115" width="1" height="3.0" opacity="0.45"/><rect x="520" y="124" width="16" height="3.0" opacity="0.56"/><rect x="539" y="124" width="17" height="3.0" opacity="0.45"/><rect x="559" y="124" width="8" height="3.0" opacity="0.55"/><rect x="569" y="124" width="16" height="3.0" opacity="0.75"/><rect x="588" y="124" width="18" height="3.0" opacity="0.75"/><rect x="608" y="124" width="12" height="3.0" opacity="0.65"/><rect x="622" y="124" width="14" height="3.0" opacity="0.55"/><rect x="638" y="124" width="14" height="3.0" opacity="0.55"/><rect x="655" y="124" width="9" height="3.0" opacity="0.65"/><rect x="668" y="124" width="8" height="3.0" opacity="0.55"/><rect x="512" y="134" width="12" height="2.0" opacity="0.34"/><rect x="527" y="134" width="9" height="2.0" opacity="0.34"/><rect x="540" y="134" width="8" height="2.0" opacity="0.75"/><rect x="551" y="134" width="16" height="2.0" opacity="0.65"/><rect x="570" y="134" width="12" height="2.0" opacity="0.75"/><rect x="584" y="134" width="13" height="2.0" opacity="0.55"/><rect x="600" y="134" width="6" height="2.0" opacity="0.75"/><rect x="608" y="134" width="9" height="2.0" opacity="0.75"/><rect x="619" y="134" width="18" height="2.0" opacity="0.75"/><rect x="640" y="134" width="11" height="2.0" opacity="0.55"/><rect x="653" y="134" width="6" height="2.0" opacity="0.45"/><rect x="661" y="134" width="15" height="2.0" opacity="0.65"/><rect x="510" y="144" width="7" height="3.0" opacity="0.49"/><rect x="519" y="144" width="16" height="3.0" opacity="0.49"/><rect x="537" y="144" width="12" height="3.0" opacity="0.75"/><rect x="552" y="144" width="5" height="3.0" opacity="0.55"/><rect x="559" y="144" width="12" height="3.0" opacity="0.75"/><rect x="574" y="144" width="9" height="3.0" opacity="0.55"/><rect x="586" y="144" width="10" height="3.0" opacity="0.75"/><rect x="599" y="144" width="6" height="3.0" opacity="0.65"/><rect x="607" y="144" width="10" height="3.0" opacity="0.65"/><rect x="620" y="144" width="6" height="3.0" opacity="0.55"/><rect x="630" y="144" width="5" height="3.0" opacity="0.65"/><rect x="638" y="144" width="10" height="3.0" opacity="0.45"/><rect x="651" y="144" width="11" height="3.0" opacity="0.45"/><rect x="665" y="144" width="11" height="3.0" opacity="0.65"/><rect x="540" y="154" width="9" height="4.0" opacity="0.45"/><rect x="551" y="154" width="18" height="4.0" opacity="0.65"/><rect x="573" y="154" width="7" height="4.0" opacity="0.55"/><rect x="583" y="154" width="11" height="4.0" opacity="0.65"/><rect x="596" y="154" width="17" height="4.0" opacity="0.65"/><rect x="616" y="154" width="5" height="4.0" opacity="0.75"/><rect x="625" y="154" width="13" height="4.0" opacity="0.55"/><rect x="642" y="154" width="6" height="4.0" opacity="0.45"/><rect x="652" y="154" width="11" height="4.0" opacity="0.75"/><rect x="667" y="154" width="9" height="4.0" opacity="0.55"/><rect x="480" y="168" width="18" height="3.0" opacity="0.49"/><rect x="501" y="168" width="5" height="3.0" opacity="0.41"/><rect x="508" y="168" width="12" height="3.0" opacity="0.56"/><rect x="523" y="168" width="9" height="3.0" opacity="0.49"/><rect x="535" y="168" width="16" height="3.0" opacity="0.65"/><rect x="554" y="168" width="15" height="3.0" opacity="0.55"/><rect x="572" y="168" width="12" height="3.0" opacity="0.75"/><rect x="586" y="168" width="7" height="3.0" opacity="0.55"/><rect x="595" y="168" width="8" height="3.0" opacity="0.75"/><rect x="607" y="168" width="8" height="3.0" opacity="0.75"/><rect x="618" y="168" width="17" height="3.0" opacity="0.75"/><rect x="638" y="168" width="7" height="3.0" opacity="0.55"/><rect x="647" y="168" width="6" height="3.0" opacity="0.55"/><rect x="656" y="168" width="13" height="3.0" opacity="0.45"/><rect x="672" y="168" width="4" height="3.0" opacity="0.65"/><rect x="474" y="178" width="17" height="4.0" opacity="0.41"/><rect x="493" y="178" width="16" height="4.0" opacity="0.56"/><rect x="512" y="178" width="11" height="4.0" opacity="0.41"/><rect x="526" y="178" width="9" height="4.0" opacity="0.49"/><rect x="537" y="178" width="12" height="4.0" opacity="0.65"/><rect x="553" y="178" width="10" height="4.0" opacity="0.55"/><rect x="567" y="178" width="13" height="4.0" opacity="0.55"/><rect x="582" y="178" width="9" height="4.0" opacity="0.55"/><rect x="594" y="178" width="11" height="4.0" opacity="0.75"/><rect x="608" y="178" width="9" height="4.0" opacity="0.45"/><rect x="619" y="178" width="5" height="4.0" opacity="0.75"/><rect x="628" y="178" width="17" height="4.0" opacity="0.75"/><rect x="649" y="178" width="12" height="4.0" opacity="0.45"/><rect x="663" y="178" width="11" height="4.0" opacity="0.75"/><rect x="470" y="188" width="8" height="4.0" opacity="0.34"/><rect x="480" y="188" width="7" height="4.0" opacity="0.41"/><rect x="491" y="188" width="15" height="4.0" opacity="0.34"/><rect x="510" y="188" width="16" height="4.0" opacity="0.56"/><rect x="528" y="188" width="13" height="4.0" opacity="0.34"/><rect x="543" y="188" width="17" height="4.0" opacity="0.55"/><rect x="562" y="188" width="14" height="4.0" opacity="0.45"/><rect x="580" y="188" width="16" height="4.0" opacity="0.65"/><rect x="598" y="188" width="15" height="4.0" opacity="0.65"/><rect x="617" y="188" width="15" height="4.0" opacity="0.75"/><rect x="636" y="188" width="17" height="4.0" opacity="0.45"/><rect x="655" y="188" width="6" height="4.0" opacity="0.65"/><rect x="665" y="188" width="11" height="4.0" opacity="0.55"/></g>
<rect x="679" y="0" width="144" height="200" fill="url(#navy)"/>
<g filter="url(#b1)"><rect x="684" y="3" width="9" height="3.2" fill="#6a98ea" opacity="0.85"/><rect x="705" y="3" width="8" height="3" fill="#3060c0" opacity="0.5"/><rect x="720" y="3" width="11" height="3" fill="#3060c0" opacity="0.7"/><rect x="750" y="3" width="9" height="3" fill="#3060c0" opacity="0.7"/><rect x="779" y="3" width="10" height="3.2" fill="#5a88e0" opacity="0.8"/><rect x="797" y="3" width="9" height="3" fill="#3060c0" opacity="0.5"/><rect x="684" y="10.4" width="9" height="3.2" fill="#6a98ea" opacity="0.85"/><rect x="705" y="10.4" width="9" height="3" fill="#3060c0" opacity="0.7"/><rect x="736" y="10.4" width="8" height="3" fill="#3060c0" opacity="0.7"/><rect x="750" y="10.4" width="11" height="3" fill="#3060c0" opacity="0.7"/><rect x="779" y="10.4" width="7" height="3.2" fill="#5a88e0" opacity="0.8"/><rect x="797" y="10.4" width="10" height="3" fill="#3060c0" opacity="0.9"/><rect x="814" y="10.4" width="11" height="3" fill="#3060c0" opacity="0.5"/><rect x="684" y="17.8" width="7" height="3.2" fill="#6a98ea" opacity="0.85"/><rect x="705" y="17.8" width="8" height="3" fill="#3060c0" opacity="0.5"/><rect x="720" y="17.8" width="9" height="3" fill="#3060c0" opacity="0.7"/><rect x="736" y="17.8" width="9" height="3" fill="#3060c0" opacity="0.5"/><rect x="750" y="17.8" width="10" height="3" fill="#3060c0" opacity="0.7"/><rect x="779" y="17.8" width="6" height="3.2" fill="#5a88e0" opacity="0.8"/><rect x="814" y="17.8" width="9" height="3" fill="#3060c0" opacity="0.5"/><rect x="684" y="25.200000000000003" width="10" height="3.2" fill="#6a98ea" opacity="0.85"/><rect x="705" y="25.200000000000003" width="8" height="3" fill="#3060c0" opacity="0.9"/><rect x="720" y="25.200000000000003" width="11" height="3" fill="#3060c0" opacity="0.5"/><rect x="736" y="25.200000000000003" width="9" height="3" fill="#3060c0" opacity="0.7"/><rect x="750" y="25.200000000000003" width="8" height="3" fill="#3060c0" opacity="0.5"/><rect x="779" y="25.200000000000003" width="9" height="3.2" fill="#5a88e0" opacity="0.8"/><rect x="797" y="25.200000000000003" width="10" height="3" fill="#3060c0" opacity="0.9"/><rect x="814" y="25.200000000000003" width="8" height="3" fill="#3060c0" opacity="0.5"/><rect x="684" y="32.6" width="9" height="3.2" fill="#6a98ea" opacity="0.85"/><rect x="705" y="32.6" width="11" height="3" fill="#3060c0" opacity="0.5"/><rect x="720" y="32.6" width="11" height="3" fill="#3060c0" opacity="0.7"/><rect x="750" y="32.6" width="8" height="3" fill="#3060c0" opacity="0.5"/><rect x="779" y="32.6" width="6" height="3.2" fill="#5a88e0" opacity="0.8"/><rect x="797" y="32.6" width="10" height="3" fill="#3060c0" opacity="0.7"/><rect x="684" y="40.0" width="7" height="3.2" fill="#6a98ea" opacity="0.85"/><rect x="705" y="40.0" width="9" height="3" fill="#3060c0" opacity="0.7"/><rect x="720" y="40.0" width="10" height="3" fill="#3060c0" opacity="0.7"/><rect x="736" y="40.0" width="11" height="3" fill="#3060c0" opacity="0.5"/><rect x="750" y="40.0" width="11" height="3" fill="#3060c0" opacity="0.5"/><rect x="779" y="40.0" width="8" height="3.2" fill="#5a88e0" opacity="0.8"/><rect x="797" y="40.0" width="11" height="3" fill="#3060c0" opacity="0.5"/><rect x="814" y="40.0" width="9" height="3" fill="#3060c0" opacity="0.9"/><rect x="684" y="47.4" width="10" height="3.2" fill="#6a98ea" opacity="0.85"/><rect x="705" y="47.4" width="8" height="3" fill="#3060c0" opacity="0.7"/><rect x="720" y="47.4" width="8" height="3" fill="#3060c0" opacity="0.7"/><rect x="736" y="47.4" width="8" height="3" fill="#3060c0" opacity="0.9"/><rect x="750" y="47.4" width="10" height="3" fill="#3060c0" opacity="0.7"/><rect x="779" y="47.4" width="10" height="3.2" fill="#5a88e0" opacity="0.8"/><rect x="797" y="47.4" width="10" height="3" fill="#3060c0" opacity="0.7"/><rect x="814" y="47.4" width="8" height="3" fill="#3060c0" opacity="0.5"/><rect x="684" y="54.8" width="8" height="3.2" fill="#6a98ea" opacity="0.85"/><rect x="705" y="54.8" width="11" height="3" fill="#3060c0" opacity="0.7"/><rect x="720" y="54.8" width="11" height="3" fill="#3060c0" opacity="0.7"/><rect x="736" y="54.8" width="11" height="3" fill="#3060c0" opacity="0.5"/><rect x="750" y="54.8" width="10" height="3" fill="#3060c0" opacity="0.9"/><rect x="779" y="54.8" width="7" height="3.2" fill="#5a88e0" opacity="0.8"/><rect x="797" y="54.8" width="10" height="3" fill="#3060c0" opacity="0.7"/><rect x="814" y="54.8" width="8" height="3" fill="#3060c0" opacity="0.9"/><rect x="684" y="62.199999999999996" width="8" height="3.2" fill="#6a98ea" opacity="0.85"/><rect x="705" y="62.199999999999996" width="9" height="3" fill="#3060c0" opacity="0.5"/><rect x="720" y="62.199999999999996" width="8" height="3" fill="#3060c0" opacity="0.7"/><rect x="736" y="62.199999999999996" width="10" height="3" fill="#3060c0" opacity="0.5"/><rect x="779" y="62.199999999999996" width="6" height="3.2" fill="#5a88e0" opacity="0.8"/><rect x="814" y="62.199999999999996" width="8" height="3" fill="#3060c0" opacity="0.5"/><rect x="684" y="69.6" width="7" height="3.2" fill="#6a98ea" opacity="0.85"/><rect x="705" y="69.6" width="11" height="3" fill="#3060c0" opacity="0.5"/><rect x="720" y="69.6" width="11" height="3" fill="#3060c0" opacity="0.7"/><rect x="736" y="69.6" width="9" height="3" fill="#3060c0" opacity="0.9"/><rect x="750" y="69.6" width="8" height="3" fill="#3060c0" opacity="0.7"/><rect x="779" y="69.6" width="8" height="3.2" fill="#5a88e0" opacity="0.8"/><rect x="797" y="69.6" width="10" height="3" fill="#3060c0" opacity="0.7"/><rect x="814" y="69.6" width="10" height="3" fill="#3060c0" opacity="0.5"/><rect x="684" y="77.0" width="10" height="3.2" fill="#6a98ea" opacity="0.85"/><rect x="705" y="77.0" width="9" height="3" fill="#3060c0" opacity="0.5"/><rect x="720" y="77.0" width="9" height="3" fill="#3060c0" opacity="0.7"/><rect x="736" y="77.0" width="10" height="3" fill="#3060c0" opacity="0.5"/><rect x="750" y="77.0" width="9" height="3" fill="#3060c0" opacity="0.9"/><rect x="779" y="77.0" width="6" height="3.2" fill="#5a88e0" opacity="0.8"/><rect x="797" y="77.0" width="8" height="3" fill="#3060c0" opacity="0.5"/><rect x="814" y="77.0" width="9" height="3" fill="#3060c0" opacity="0.7"/><rect x="684" y="84.4" width="9" height="3.2" fill="#6a98ea" opacity="0.85"/><rect x="705" y="84.4" width="10" height="3" fill="#3060c0" opacity="0.5"/><rect x="720" y="84.4" width="9" height="3" fill="#3060c0" opacity="0.9"/><rect x="750" y="84.4" width="8" height="3" fill="#3060c0" opacity="0.7"/><rect x="779" y="84.4" width="10" height="3.2" fill="#5a88e0" opacity="0.8"/><rect x="814" y="84.4" width="10" height="3" fill="#3060c0" opacity="0.9"/><rect x="684" y="91.80000000000001" width="7" height="3.2" fill="#6a98ea" opacity="0.85"/><rect x="705" y="91.80000000000001" width="10" height="3" fill="#3060c0" opacity="0.5"/><rect x="720" y="91.80000000000001" width="10" height="3" fill="#3060c0" opacity="0.5"/><rect x="736" y="91.80000000000001" width="10" height="3" fill="#3060c0" opacity="0.5"/><rect x="750" y="91.80000000000001" width="9" height="3" fill="#3060c0" opacity="0.5"/><rect x="779" y="91.80000000000001" width="8" height="3.2" fill="#5a88e0" opacity="0.8"/><rect x="797" y="91.80000000000001" width="10" height="3" fill="#3060c0" opacity="0.5"/><rect x="814" y="91.80000000000001" width="8" height="3" fill="#3060c0" opacity="0.5"/><rect x="684" y="99.20000000000002" width="7" height="3.2" fill="#6a98ea" opacity="0.85"/><rect x="705" y="99.20000000000002" width="11" height="3" fill="#3060c0" opacity="0.5"/><rect x="720" y="99.20000000000002" width="11" height="3" fill="#3060c0" opacity="0.9"/><rect x="736" y="99.20000000000002" width="8" height="3" fill="#3060c0" opacity="0.9"/><rect x="750" y="99.20000000000002" width="10" height="3" fill="#3060c0" opacity="0.7"/><rect x="779" y="99.20000000000002" width="8" height="3.2" fill="#5a88e0" opacity="0.8"/><rect x="797" y="99.20000000000002" width="11" height="3" fill="#3060c0" opacity="0.5"/><rect x="814" y="99.20000000000002" width="10" height="3" fill="#3060c0" opacity="0.7"/><rect x="684" y="106.60000000000002" width="10" height="3.2" fill="#6a98ea" opacity="0.85"/><rect x="705" y="106.60000000000002" width="10" height="3" fill="#3060c0" opacity="0.9"/><rect x="720" y="106.60000000000002" width="11" height="3" fill="#3060c0" opacity="0.5"/><rect x="750" y="106.60000000000002" width="9" height="3" fill="#3060c0" opacity="0.7"/><rect x="779" y="106.60000000000002" width="6" height="3.2" fill="#5a88e0" opacity="0.8"/><rect x="814" y="106.60000000000002" width="10" height="3" fill="#3060c0" opacity="0.7"/><rect x="684" y="114.00000000000003" width="8" height="3.2" fill="#6a98ea" opacity="0.85"/><rect x="705" y="114.00000000000003" width="8" height="3" fill="#3060c0" opacity="0.9"/><rect x="720" y="114.00000000000003" width="11" height="3" fill="#3060c0" opacity="0.5"/><rect x="736" y="114.00000000000003" width="10" height="3" fill="#3060c0" opacity="0.9"/><rect x="750" y="114.00000000000003" width="9" height="3" fill="#3060c0" opacity="0.7"/><rect x="779" y="114.00000000000003" width="8" height="3.2" fill="#5a88e0" opacity="0.8"/><rect x="797" y="114.00000000000003" width="9" height="3" fill="#3060c0" opacity="0.5"/><rect x="814" y="114.00000000000003" width="11" height="3" fill="#3060c0" opacity="0.5"/><rect x="684" y="121.40000000000003" width="9" height="3.2" fill="#6a98ea" opacity="0.85"/><rect x="705" y="121.40000000000003" width="8" height="3" fill="#3060c0" opacity="0.7"/><rect x="720" y="121.40000000000003" width="11" height="3" fill="#3060c0" opacity="0.5"/><rect x="750" y="121.40000000000003" width="9" height="3" fill="#3060c0" opacity="0.9"/><rect x="779" y="121.40000000000003" width="7" height="3.2" fill="#5a88e0" opacity="0.8"/><rect x="797" y="121.40000000000003" width="9" height="3" fill="#3060c0" opacity="0.7"/><rect x="814" y="121.40000000000003" width="9" height="3" fill="#3060c0" opacity="0.5"/><rect x="684" y="128.80000000000004" width="10" height="3.2" fill="#6a98ea" opacity="0.85"/><rect x="720" y="128.80000000000004" width="10" height="3" fill="#3060c0" opacity="0.5"/><rect x="736" y="128.80000000000004" width="9" height="3" fill="#3060c0" opacity="0.5"/><rect x="779" y="128.80000000000004" width="6" height="3.2" fill="#5a88e0" opacity="0.8"/><rect x="797" y="128.80000000000004" width="10" height="3" fill="#3060c0" opacity="0.5"/><rect x="814" y="128.80000000000004" width="11" height="3" fill="#3060c0" opacity="0.9"/><rect x="684" y="136.20000000000005" width="9" height="3.2" fill="#6a98ea" opacity="0.85"/><rect x="705" y="136.20000000000005" width="10" height="3" fill="#3060c0" opacity="0.9"/><rect x="720" y="136.20000000000005" width="11" height="3" fill="#3060c0" opacity="0.9"/><rect x="736" y="136.20000000000005" width="11" height="3" fill="#3060c0" opacity="0.5"/><rect x="750" y="136.20000000000005" width="11" height="3" fill="#3060c0" opacity="0.7"/><rect x="779" y="136.20000000000005" width="7" height="3.2" fill="#5a88e0" opacity="0.8"/><rect x="797" y="136.20000000000005" width="11" height="3" fill="#3060c0" opacity="0.5"/><rect x="684" y="143.60000000000005" width="10" height="3.2" fill="#6a98ea" opacity="0.85"/><rect x="705" y="143.60000000000005" width="9" height="3" fill="#3060c0" opacity="0.7"/><rect x="720" y="143.60000000000005" width="8" height="3" fill="#3060c0" opacity="0.7"/><rect x="736" y="143.60000000000005" width="8" height="3" fill="#3060c0" opacity="0.5"/><rect x="750" y="143.60000000000005" width="8" height="3" fill="#3060c0" opacity="0.9"/><rect x="779" y="143.60000000000005" width="8" height="3.2" fill="#5a88e0" opacity="0.8"/><rect x="814" y="143.60000000000005" width="8" height="3" fill="#3060c0" opacity="0.9"/><rect x="684" y="151.00000000000006" width="10" height="3.2" fill="#6a98ea" opacity="0.85"/><rect x="705" y="151.00000000000006" width="9" height="3" fill="#3060c0" opacity="0.5"/><rect x="750" y="151.00000000000006" width="8" height="3" fill="#3060c0" opacity="0.5"/><rect x="779" y="151.00000000000006" width="7" height="3.2" fill="#5a88e0" opacity="0.8"/><rect x="814" y="151.00000000000006" width="9" height="3" fill="#3060c0" opacity="0.9"/><rect x="684" y="158.40000000000006" width="8" height="3.2" fill="#6a98ea" opacity="0.85"/><rect x="705" y="158.40000000000006" width="10" height="3" fill="#3060c0" opacity="0.9"/><rect x="720" y="158.40000000000006" width="9" height="3" fill="#3060c0" opacity="0.7"/><rect x="750" y="158.40000000000006" width="11" height="3" fill="#3060c0" opacity="0.5"/><rect x="779" y="158.40000000000006" width="8" height="3.2" fill="#5a88e0" opacity="0.8"/><rect x="797" y="158.40000000000006" width="11" height="3" fill="#3060c0" opacity="0.5"/><rect x="814" y="158.40000000000006" width="9" height="3" fill="#3060c0" opacity="0.7"/><rect x="684" y="165.80000000000007" width="9" height="3.2" fill="#6a98ea" opacity="0.85"/><rect x="705" y="165.80000000000007" width="9" height="3" fill="#3060c0" opacity="0.7"/><rect x="720" y="165.80000000000007" width="10" height="3" fill="#3060c0" opacity="0.9"/><rect x="736" y="165.80000000000007" width="11" height="3" fill="#3060c0" opacity="0.5"/><rect x="750" y="165.80000000000007" width="10" height="3" fill="#3060c0" opacity="0.5"/><rect x="779" y="165.80000000000007" width="10" height="3.2" fill="#5a88e0" opacity="0.8"/><rect x="797" y="165.80000000000007" width="10" height="3" fill="#3060c0" opacity="0.7"/><rect x="814" y="165.80000000000007" width="8" height="3" fill="#3060c0" opacity="0.7"/><rect x="684" y="173.20000000000007" width="11" height="3.2" fill="#6a98ea" opacity="0.85"/><rect x="705" y="173.20000000000007" width="11" height="3" fill="#3060c0" opacity="0.9"/><rect x="720" y="173.20000000000007" width="10" height="3" fill="#3060c0" opacity="0.7"/><rect x="750" y="173.20000000000007" width="10" height="3" fill="#3060c0" opacity="0.7"/><rect x="779" y="173.20000000000007" width="6" height="3.2" fill="#5a88e0" opacity="0.8"/><rect x="797" y="173.20000000000007" width="9" height="3" fill="#3060c0" opacity="0.9"/><rect x="684" y="180.60000000000008" width="7" height="3.2" fill="#6a98ea" opacity="0.85"/><rect x="705" y="180.60000000000008" width="10" height="3" fill="#3060c0" opacity="0.7"/><rect x="720" y="180.60000000000008" width="10" height="3" fill="#3060c0" opacity="0.9"/><rect x="736" y="180.60000000000008" width="8" height="3" fill="#3060c0" opacity="0.5"/><rect x="750" y="180.60000000000008" width="11" height="3" fill="#3060c0" opacity="0.7"/><rect x="779" y="180.60000000000008" width="10" height="3.2" fill="#5a88e0" opacity="0.8"/><rect x="797" y="180.60000000000008" width="8" height="3" fill="#3060c0" opacity="0.5"/><rect x="814" y="180.60000000000008" width="8" height="3" fill="#3060c0" opacity="0.5"/><rect x="684" y="188.00000000000009" width="7" height="3.2" fill="#6a98ea" opacity="0.85"/><rect x="705" y="188.00000000000009" width="10" height="3" fill="#3060c0" opacity="0.7"/><rect x="720" y="188.00000000000009" width="10" height="3" fill="#3060c0" opacity="0.9"/><rect x="736" y="188.00000000000009" width="10" height="3" fill="#3060c0" opacity="0.9"/><rect x="750" y="188.00000000000009" width="10" height="3" fill="#3060c0" opacity="0.9"/><rect x="779" y="188.00000000000009" width="9" height="3.2" fill="#5a88e0" opacity="0.8"/><rect x="797" y="188.00000000000009" width="8" height="3" fill="#3060c0" opacity="0.5"/><rect x="684" y="195.4000000000001" width="10" height="3.2" fill="#6a98ea" opacity="0.85"/><rect x="705" y="195.4000000000001" width="9" height="3" fill="#3060c0" opacity="0.9"/><rect x="720" y="195.4000000000001" width="11" height="3" fill="#3060c0" opacity="0.7"/><rect x="750" y="195.4000000000001" width="10" height="3" fill="#3060c0" opacity="0.9"/><rect x="779" y="195.4000000000001" width="10" height="3.2" fill="#5a88e0" opacity="0.8"/><rect x="797" y="195.4000000000001" width="11" height="3" fill="#3060c0" opacity="0.5"/><rect x="814" y="195.4000000000001" width="8" height="3" fill="#3060c0" opacity="0.5"/></g>
<rect x="766" y="0" width="11" height="200" fill="#070c22" opacity="0.8" filter="url(#b1)"/>
<rect x="673" y="124" width="91" height="80" fill="#73a3e6" filter="url(#b1)"/>
<rect x="673" y="124" width="16" height="80" fill="#8ab8f2" filter="url(#b1)"/>
<rect x="690" y="125" width="74" height="7" fill="#3f619c" filter="url(#b1)"/>
<g filter="url(#b1)" fill="#1e3a78"><rect x="676" y="137" width="8" height="3" opacity="0.8"/><rect x="693" y="137" width="9" height="3" opacity="0.6"/><rect x="710" y="137" width="10" height="3" opacity="0.45"/><rect x="745" y="137" width="10" height="3" opacity="0.45"/><rect x="676" y="144.4" width="8" height="3" opacity="0.8"/><rect x="693" y="144.4" width="12" height="3" opacity="0.8"/><rect x="710" y="144.4" width="11" height="3" opacity="0.45"/><rect x="727" y="144.4" width="9" height="3" opacity="0.8"/><rect x="745" y="144.4" width="9" height="3" opacity="0.6"/><rect x="676" y="151.8" width="8" height="3" opacity="0.8"/><rect x="693" y="151.8" width="12" height="3" opacity="0.45"/><rect x="710" y="151.8" width="12" height="3" opacity="0.45"/><rect x="727" y="151.8" width="9" height="3" opacity="0.6"/><rect x="745" y="151.8" width="9" height="3" opacity="0.45"/><rect x="676" y="159.20000000000002" width="8" height="3" opacity="0.8"/><rect x="693" y="159.20000000000002" width="11" height="3" opacity="0.8"/><rect x="710" y="159.20000000000002" width="12" height="3" opacity="0.8"/><rect x="727" y="159.20000000000002" width="11" height="3" opacity="0.6"/><rect x="745" y="159.20000000000002" width="10" height="3" opacity="0.45"/><rect x="676" y="166.60000000000002" width="8" height="3" opacity="0.8"/><rect x="710" y="166.60000000000002" width="11" height="3" opacity="0.45"/><rect x="727" y="166.60000000000002" width="10" height="3" opacity="0.45"/><rect x="745" y="166.60000000000002" width="11" height="3" opacity="0.45"/><rect x="676" y="174.00000000000003" width="8" height="3" opacity="0.8"/><rect x="710" y="174.00000000000003" width="10" height="3" opacity="0.6"/><rect x="745" y="174.00000000000003" width="12" height="3" opacity="0.6"/><rect x="676" y="181.40000000000003" width="8" height="3" opacity="0.8"/><rect x="693" y="181.40000000000003" width="9" height="3" opacity="0.45"/><rect x="710" y="181.40000000000003" width="10" height="3" opacity="0.8"/><rect x="745" y="181.40000000000003" width="12" height="3" opacity="0.8"/><rect x="676" y="188.80000000000004" width="8" height="3" opacity="0.8"/><rect x="693" y="188.80000000000004" width="10" height="3" opacity="0.45"/><rect x="710" y="188.80000000000004" width="9" height="3" opacity="0.45"/><rect x="727" y="188.80000000000004" width="10" height="3" opacity="0.6"/><rect x="676" y="196.20000000000005" width="8" height="3" opacity="0.8"/><rect x="693" y="196.20000000000005" width="9" height="3" opacity="0.45"/><rect x="710" y="196.20000000000005" width="9" height="3" opacity="0.8"/><rect x="727" y="196.20000000000005" width="9" height="3" opacity="0.45"/></g>
<rect x="768" y="127" width="55" height="7.5" fill="#5f8cd0" filter="url(#b1)"/>
<path d="M540 89 L680 91 L823 104 L823 113 L680 102 L540 101Z" fill="url(#barg)" filter="url(#b1)"/>
<g filter="url(#b05)"><path d="M448 135.5 L540 154 L538.3 162.8 L446.3 144.3Z" fill="#e59a36"/><path d="M447.6 138.4 L539.4 157 L538.9 159.8 L447 141.2Z" fill="#f6ecdc"/><path d="M540 154 L552 160.5 L538.3 162.8Z" fill="#d9def2"/></g>
</g></svg>
</div>
<div class="abs b" style="left:182.6px;top:196.6px;font-size:40.5px;color:#fff;letter-spacing:-0.45px">Dashboard</div>
<div class="abs b c" style="left:155px;width:200px;top:373.3px;font-size:15.7px">Annual Target</div>
<div class="abs b c" style="left:155px;width:200px;top:469.5px;font-size:24px">135M</div>
<div class="abs c" style="left:155px;width:200px;top:503px;font-size:11.3px;color:#222">29.7%</div>
<div class="abs b c" style="left:377px;width:200px;top:355px;font-size:15.7px">Annual Target</div>
<div class="abs c" style="left:377px;width:200px;top:374.2px;font-size:15.6px;color:#222">(Yellowfin Referral)</div>
<div class="abs b c" style="left:376.5px;width:200px;top:469.3px;font-size:24.6px">20M</div>
<div class="abs c" style="left:377px;width:200px;top:503px;font-size:11.3px;color:#222">46.6%</div>
<div class="abs" style="left:588.5px;top:372.9px;font-size:15.7px;color:#222"><span class="b" style="color:#111">Quarterly Target</span> (Yellowfin Referral)</div>
<div class="abs" style="left:588.5px;top:417.6px;font-size:16.6px;color:#222">Q1</div>
<div class="abs" style="left:672.5px;top:417.6px;font-size:16.6px;color:#222">Q2</div>
<div class="abs" style="left:785.5px;top:417.6px;font-size:16.6px;color:#222">Q3</div>
<div class="abs" style="left:869px;top:417.6px;font-size:16.6px;color:#222">Q4</div>
<div class="abs b" style="left:588.5px;top:441.5px;font-size:24.5px;letter-spacing:0.9px;color:#4aa2b6">2M</div>
<div class="abs b" style="left:672.6px;top:441.5px;font-size:24.5px;letter-spacing:0.9px;color:#3d8d9d">8M</div>
<div class="abs b" style="left:785.5px;top:441.5px;font-size:24.5px;letter-spacing:0.9px;color:#2f7886">5M</div>
<div class="abs b" style="left:869px;top:441.5px;font-size:24.5px;letter-spacing:0.9px;color:#28616b">5M</div>
<div class="abs" style="left:589.0px;top:472.8px;font-size:9.7px;color:#222">426.9%</div>
<div class="abs" style="left:673.5px;top:472.8px;font-size:9.7px;color:#222">9.8%</div>
<div class="abs" style="left:786.0px;top:472.8px;font-size:9.7px;color:#222">- -%</div>
<div class="abs" style="left:869.5px;top:472.8px;font-size:9.7px;color:#222">- -%</div>
<svg width="1440" height="751" viewBox="0 0 1440 751">
<path d="M217.68 538.63A67.1 67.1 0 1 1 292.72 538.63" fill="none" stroke="#ffffff" stroke-width="8"/><path d="M217.68 538.63A67.1 67.1 0 0 1 197.52 448.72" fill="none" stroke="#2f6db5" stroke-width="8"/><path d="M439.68 538.93A67.1 67.1 0 1 1 514.72 538.93" fill="none" stroke="#e6e6e6" stroke-width="8"/><path d="M439.68 538.93A67.1 67.1 0 0 1 462.95 417.73" fill="none" stroke="#4aa2b6" stroke-width="8"/>
<rect x="589" y="487.8" width="36" height="45.5" fill="#4aa2b6"/>
<rect x="624.3" y="487.8" width="137" height="45.5" fill="#3d8d9d"/>
<rect x="760.4" y="487.8" width="86" height="45.5" fill="#2f7886"/>
<rect x="845.7" y="487.8" width="86" height="45.5" fill="#28616b"/>
<rect x="589" y="505.2" width="164.4" height="10.3" fill="#1a434d"/>
<rect x="589.05" y="536.2" width="1.3" height="3.7" fill="#3a3a3a"/><rect x="606.14" y="536.2" width="1.3" height="3.7" fill="#3a3a3a"/><rect x="623.23" y="536.2" width="1.3" height="3.7" fill="#3a3a3a"/><rect x="640.32" y="536.2" width="1.3" height="3.7" fill="#3a3a3a"/><rect x="657.41" y="536.2" width="1.3" height="3.7" fill="#3a3a3a"/><rect x="674.50" y="536.2" width="1.3" height="3.7" fill="#3a3a3a"/><rect x="691.59" y="536.2" width="1.3" height="3.7" fill="#3a3a3a"/><rect x="708.68" y="536.2" width="1.3" height="3.7" fill="#3a3a3a"/><rect x="725.77" y="536.2" width="1.3" height="3.7" fill="#3a3a3a"/><rect x="742.86" y="536.2" width="1.3" height="3.7" fill="#3a3a3a"/><rect x="759.95" y="536.2" width="1.3" height="3.7" fill="#3a3a3a"/><rect x="777.04" y="536.2" width="1.3" height="3.7" fill="#3a3a3a"/><rect x="794.13" y="536.2" width="1.3" height="3.7" fill="#3a3a3a"/><rect x="811.22" y="536.2" width="1.3" height="3.7" fill="#3a3a3a"/><rect x="828.31" y="536.2" width="1.3" height="3.7" fill="#3a3a3a"/><rect x="845.40" y="536.2" width="1.3" height="3.7" fill="#3a3a3a"/><rect x="862.49" y="536.2" width="1.3" height="3.7" fill="#3a3a3a"/><rect x="879.58" y="536.2" width="1.3" height="3.7" fill="#3a3a3a"/><rect x="896.67" y="536.2" width="1.3" height="3.7" fill="#3a3a3a"/><rect x="913.76" y="536.2" width="1.3" height="3.7" fill="#3a3a3a"/><rect x="930.85" y="536.2" width="1.3" height="3.7" fill="#3a3a3a"/><text x="589.70" y="551.4" font-size="5.7" text-anchor="middle" fill="#333" stroke="#333" stroke-width="0.15">0M</text><text x="606.79" y="551.4" font-size="5.7" text-anchor="middle" fill="#333" stroke="#333" stroke-width="0.15">1M</text><text x="623.88" y="551.4" font-size="5.7" text-anchor="middle" fill="#333" stroke="#333" stroke-width="0.15">2M</text><text x="640.97" y="551.4" font-size="5.7" text-anchor="middle" fill="#333" stroke="#333" stroke-width="0.15">3M</text><text x="658.06" y="551.4" font-size="5.7" text-anchor="middle" fill="#333" stroke="#333" stroke-width="0.15">4M</text><text x="675.15" y="551.4" font-size="5.7" text-anchor="middle" fill="#333" stroke="#333" stroke-width="0.15">5M</text><text x="692.24" y="551.4" font-size="5.7" text-anchor="middle" fill="#333" stroke="#333" stroke-width="0.15">6M</text><text x="709.33" y="551.4" font-size="5.7" text-anchor="middle" fill="#333" stroke="#333" stroke-width="0.15">7M</text><text x="726.42" y="551.4" font-size="5.7" text-anchor="middle" fill="#333" stroke="#333" stroke-width="0.15">8M</text><text x="743.51" y="551.4" font-size="5.7" text-anchor="middle" fill="#333" stroke="#333" stroke-width="0.15">9M</text><text x="760.60" y="551.4" font-size="5.7" text-anchor="middle" fill="#333" stroke="#333" stroke-width="0.15">10M</text><text x="777.69" y="551.4" font-size="5.7" text-anchor="middle" fill="#333" stroke="#333" stroke-width="0.15">11M</text><text x="794.78" y="551.4" font-size="5.7" text-anchor="middle" fill="#333" stroke="#333" stroke-width="0.15">12M</text><text x="811.87" y="551.4" font-size="5.7" text-anchor="middle" fill="#333" stroke="#333" stroke-width="0.15">13M</text><text x="828.96" y="551.4" font-size="5.7" text-anchor="middle" fill="#333" stroke="#333" stroke-width="0.15">14M</text><text x="846.05" y="551.4" font-size="5.7" text-anchor="middle" fill="#333" stroke="#333" stroke-width="0.15">15M</text><text x="863.14" y="551.4" font-size="5.7" text-anchor="middle" fill="#333" stroke="#333" stroke-width="0.15">16M</text><text x="880.23" y="551.4" font-size="5.7" text-anchor="middle" fill="#333" stroke="#333" stroke-width="0.15">17M</text><text x="897.32" y="551.4" font-size="5.7" text-anchor="middle" fill="#333" stroke="#333" stroke-width="0.15">18M</text><text x="914.41" y="551.4" font-size="5.7" text-anchor="middle" fill="#333" stroke="#333" stroke-width="0.15">19M</text><text x="931.50" y="551.4" font-size="5.7" text-anchor="middle" fill="#333" stroke="#333" stroke-width="0.15">20M</text>
<circle cx="996.4" cy="529.35" r="103.8" fill="#2d72b8"/><path d="M996.4 529.35L895.91 503.36A103.8 103.8 0 0 1 996.40 425.55Z" fill="#9bc7e8"/><line x1="996.4" y1="529.35" x2="996.40" y2="425.55" stroke="#ffffff" stroke-width="1.1"/><line x1="996.4" y1="529.35" x2="895.91" y2="503.36" stroke="#ffffff" stroke-width="1.1"/><circle cx="996.5" cy="528.7" r="48.7" fill="#f5f4f3"/>
<text x="949.8" y="473.8" font-size="11.1" text-anchor="middle" fill="#fff" stroke="#fff" stroke-width="0.25">20.3%</text>
<text x="1052.3" y="583" font-size="11.1" text-anchor="middle" fill="#fff" stroke="#fff" stroke-width="0.25">79.7%</text>
<text x="995" y="530.4" font-size="20.5" text-anchor="middle" fill="#161616" stroke="#161616" stroke-width="0.45">17:01</text>
<text x="996.3" y="545.2" font-size="11.5" font-weight="700" text-anchor="middle" fill="#161616">MINUTES</text>
<circle cx="919.8" cy="661.3" r="5.8" fill="#2d72b8"/><text x="932.6" y="665.8" font-size="11.7" fill="#444" stroke="#444" stroke-width="0.2">0 - 12 min</text>
<circle cx="1006.5" cy="661.3" r="5.8" fill="#9bc7e8"/><text x="1019.8" y="665.8" font-size="11.7" fill="#444" stroke="#444" stroke-width="0.2">12 - 15 min</text>
</svg>
</body></html>
